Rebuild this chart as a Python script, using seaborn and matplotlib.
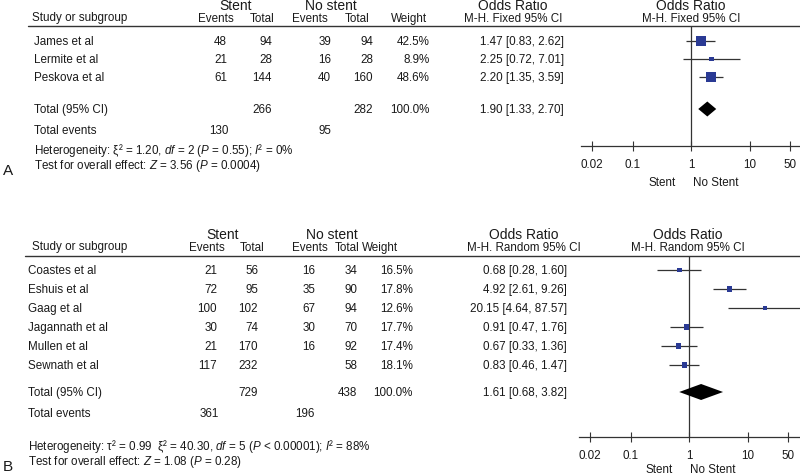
import numpy as np
import pandas as pd
import matplotlib
matplotlib.use('Agg')
import matplotlib.pyplot as plt
from matplotlib.ticker import NullLocator
import seaborn as sns

sns.set_theme(style='white')
plt.rcParams['font.family'] = ['Liberation Sans', 'DejaVu Sans']
plt.rcParams['mathtext.fontset'] = 'custom'
plt.rcParams['mathtext.rm'] = 'Liberation Sans'
plt.rcParams['mathtext.it'] = 'Liberation Sans:italic'
plt.rcParams['mathtext.sf'] = 'Liberation Sans'

# ---------------- Panel A data ----------------
a_studies = ['James et al', 'Lermite et al', 'Peskova et al']
a_stent_events = [48, 21, 61]
a_stent_total = [94, 28, 144]
a_nostent_events = [39, 16, 40]
a_nostent_total = [94, 28, 160]
a_weight = [42.5, 8.9, 48.6]
a_or = [1.47, 2.25, 2.20]
a_lo = [0.83, 0.72, 1.35]
a_hi = [2.62, 7.01, 3.59]
a_total_n = [266, 282]
a_total_events = [130, 95]
a_total_or = [1.90, 1.33, 2.70]

# ---------------- Panel B data ----------------
b_studies = ['Coastes et al', 'Eshuis et al', 'Gaag et al',
             'Jagannath et al', 'Mullen et al', 'Sewnath et al']
b_stent_events = [21, 72, 100, 30, 21, 117]
b_stent_total = [56, 95, 102, 74, 170, 232]
b_nostent_events = [16, 35, 67, 30, 16, None]
b_nostent_total = [34, 90, 94, 70, 92, 58]
b_weight = [16.5, 17.8, 12.6, 17.7, 17.4, 18.1]
b_or = [0.68, 4.92, 20.15, 0.91, 0.67, 0.83]
b_lo = [0.28, 2.61, 4.64, 0.47, 0.33, 0.46]
b_hi = [1.60, 9.26, 87.57, 1.76, 1.36, 1.47]
b_total_n = [729, 438]
b_total_events = [361, 196]
b_total_or = [1.61, 0.68, 3.82]

tick_values = [0.02, 0.1, 1, 10, 50]
tick_labels = ['0.02', '0.1', '1', '10', '50']

# ---------------- styling ----------------
W, H = 800, 477
fig = plt.figure(figsize=(8, 4.77), dpi=100)
fig.patch.set_facecolor('white')
tx = fig.add_axes([0, 0, 1, 1])
tx.set_xlim(0, W)
tx.set_ylim(H, 0)
tx.axis('off')

TXT = '#1a1a1a'
BLUE = '#2a3a94'
LINE = '#333333'
FS = 8.4
HFS = 10


def T(x, y, s, ha='left', fs=FS, **kw):
    tx.text(x, y, s, ha=ha, va='center', fontsize=fs, color=TXT, **kw)


def fmt_ci(v):
    o, l, h = v
    return f'{o:.2f} [{l:.2f}, {h:.2f}]'


def panel(L):
    # headers
    T(L['stent_c'], L['h1'], 'Stent', ha='center', fs=HFS)
    T(L['nost_c'], L['h1'], 'No stent', ha='center', fs=HFS)
    T(L['or_c'], L['h1'], 'Odds Ratio', ha='center', fs=HFS)
    T(L['plot_c'], L['h1'], 'Odds Ratio', ha='center', fs=HFS)
    T(L['name_h'], L['h2'] - 1, 'Study or subgroup')
    T(L['ev1_c'], L['h2'], 'Events', ha='center')
    T(L['tot1_c'], L['h2'], 'Total', ha='center')
    T(L['ev2_c'], L['h2'], 'Events', ha='center')
    T(L['tot2_c'], L['h2'], 'Total', ha='center')
    T(L['w_c'], L['h2'], 'Weight', ha='center')
    T(L['or_c'], L['h2'], L['method'], ha='center')
    T(L['plot_c'], L['h2'], L['method'], ha='center')
    tx.plot([L['line_x0'], W], [L['line_y'], L['line_y']], color=LINE, lw=1.0)

    d = L['data']
    for i, name in enumerate(d['studies']):
        y = L['rows'][i]
        T(L['name_x'], y, name)
        T(L['ev1_r'], y, str(d['se'][i]), ha='right')
        T(L['tot1_r'], y, str(d['st'][i]), ha='right')
        if d['ne'][i] is not None:
            T(L['ev2_r'], y, str(d['ne'][i]), ha='right')
        T(L['tot2_r'], y, str(d['nt'][i]), ha='right')
        T(L['w_r'], y, f"{d['w'][i]:.1f}%", ha='right')
        T(L['or_r'], y, fmt_ci((d['or'][i], d['lo'][i], d['hi'][i])), ha='right')

    yt = L['total_y']
    T(L['name_x'], yt, 'Total (95% CI)')
    T(L['tot1_r'], yt, str(d['tn'][0]), ha='right')
    T(L['tot2_r'], yt, str(d['tn'][1]), ha='right')
    T(L['w_r'], yt, '100.0%', ha='right')
    T(L['or_r'], yt, fmt_ci(d['tor']), ha='right')
    ye = L['events_y']
    T(L['name_x'], ye, 'Total events')
    T(L['ev1_r'] + 2, ye, str(d['te'][0]), ha='right')
    T(L['ev2_r'], ye, str(d['te'][1]), ha='right')
    T(L['name_x'], L['het_y'], L['het'])
    T(L['name_x'], L['test_y'], L['test'])
    T(3, L['test_y'] + 5, L['label'], fs=HFS + 1)

    # forest plot axes in pixel space
    x0, x1, top, bot = L['ax_l'], W, L['ax_top'], L['ax_bot']
    ax = fig.add_axes([x0 / W, 1 - bot / H, (x1 - x0) / W, (bot - top) / H])
    ax.patch.set_alpha(0)
    dec = L['dec']
    ax.set_xscale('log')
    ax.set_xlim(10 ** ((x0 - L['one_x']) / dec), 10 ** ((x1 - L['one_x']) / dec))
    ax.set_ylim(bot, top)
    for s in ['top', 'left', 'right']:
        ax.spines[s].set_visible(False)
    ax.spines['bottom'].set_position(('data', L['axis_y']))
    ax.spines['bottom'].set_color(LINE)
    ax.spines['bottom'].set_linewidth(0.9)
    ax.set_xticks(tick_values)
    ax.set_xticklabels(tick_labels)
    ax.xaxis.set_minor_locator(NullLocator())
    ax.tick_params(axis='x', direction='inout', length=7, width=0.8, color=LINE,
                   labelsize=FS, labelcolor=TXT, pad=5, bottom=True)
    ax.set_yticks([])
    ax.grid(False)

    ax.vlines(1, L['line_y'], L['axis_y'], color=LINE, lw=0.9)
    df = pd.DataFrame({'or': d['or'], 'lo': d['lo'], 'hi': d['hi'],
                       'w': d['w'], 'y': L['rows']})
    ax.hlines(df['y'], df['lo'], df['hi'], color=LINE, lw=0.9)
    sns.scatterplot(data=df, x='or', y='y', size='w', sizes=(0, L['s100']),
                    size_norm=(0, 100), marker='s', color=BLUE, linewidth=0,
                    legend=False, ax=ax, zorder=3)
    ax.set_xlabel('')
    ax.set_ylabel('')
    o, l, h = d['tor']
    dh = L['dia_h'] / 2
    ax.fill([l, o, h, o], [yt, yt - dh, yt, yt + dh], color='black', lw=0, zorder=3)
    T(L['stent_lab'], L['lab_y'], 'Stent', ha='center')
    T(L['nostent_lab'], L['lab_y'], 'No Stent', ha='center')


A = dict(
    data=dict(studies=a_studies, se=a_stent_events, st=a_stent_total,
              ne=a_nostent_events, nt=a_nostent_total, w=a_weight,
              **{'or': a_or}, lo=a_lo, hi=a_hi, tn=a_total_n,
              te=a_total_events, tor=a_total_or),
    method='M-H. Fixed 95% CI', label='A',
    h1=6, h2=19, line_y=27, line_x0=28,
    stent_c=236, nost_c=331, or_c=513, plot_c=691,
    name_h=32, name_x=34,
    ev1_c=216, tot1_c=262, ev2_c=310, tot2_c=357, w_c=409,
    ev1_r=227, tot1_r=272, ev2_r=331, tot2_r=373, w_r=430, or_r=564,
    rows=[42, 60, 78], total_y=110, events_y=131, het_y=151, test_y=166,
    het=r'Heterogeneity: ξ² = 1.20, $df$ = 2 ($P$ = 0.55); $I$² = 0%',
    test=r'Test for overall effect: $Z$ = 3.56 ($P$ = 0.0004)',
    ax_l=581, ax_top=0, ax_bot=200, one_x=691, dec=58.5, axis_y=147,
    s100=121, dia_h=15, stent_lab=662, nostent_lab=716, lab_y=183,
)

B = dict(
    data=dict(studies=b_studies, se=b_stent_events, st=b_stent_total,
              ne=b_nostent_events, nt=b_nostent_total, w=b_weight,
              **{'or': b_or}, lo=b_lo, hi=b_hi, tn=b_total_n,
              te=b_total_events, tor=b_total_or),
    method='M-H. Random 95% CI', label='B',
    h1=235, h2=248, line_y=257, line_x0=25,
    stent_c=223, nost_c=332, or_c=524, plot_c=688,
    name_h=32, name_x=28,
    ev1_c=207, tot1_c=252, ev2_c=310, tot2_c=347, w_c=380,
    ev1_r=217, tot1_r=258, ev2_r=315, tot2_r=357, w_r=413, or_r=567,
    rows=[271, 290, 309, 328, 347, 366], total_y=393, events_y=414,
    het_y=447, test_y=462,
    het=r'Heterogeneity: τ² = 0.99  ξ² = 40.30, $df$ = 5 ($P$ < 0.00001); $I$² = 88%',
    test=r'Test for overall effect: $Z$ = 1.08 ($P$ = 0.28)',
    ax_l=579, ax_top=225, ax_bot=477, one_x=689, dec=58.5, axis_y=438,
    s100=75, dia_h=16, stent_lab=659, nostent_lab=713, lab_y=470,
)

panel(A)
panel(B)

fig.savefig('out.png', dpi=100, facecolor='white')
